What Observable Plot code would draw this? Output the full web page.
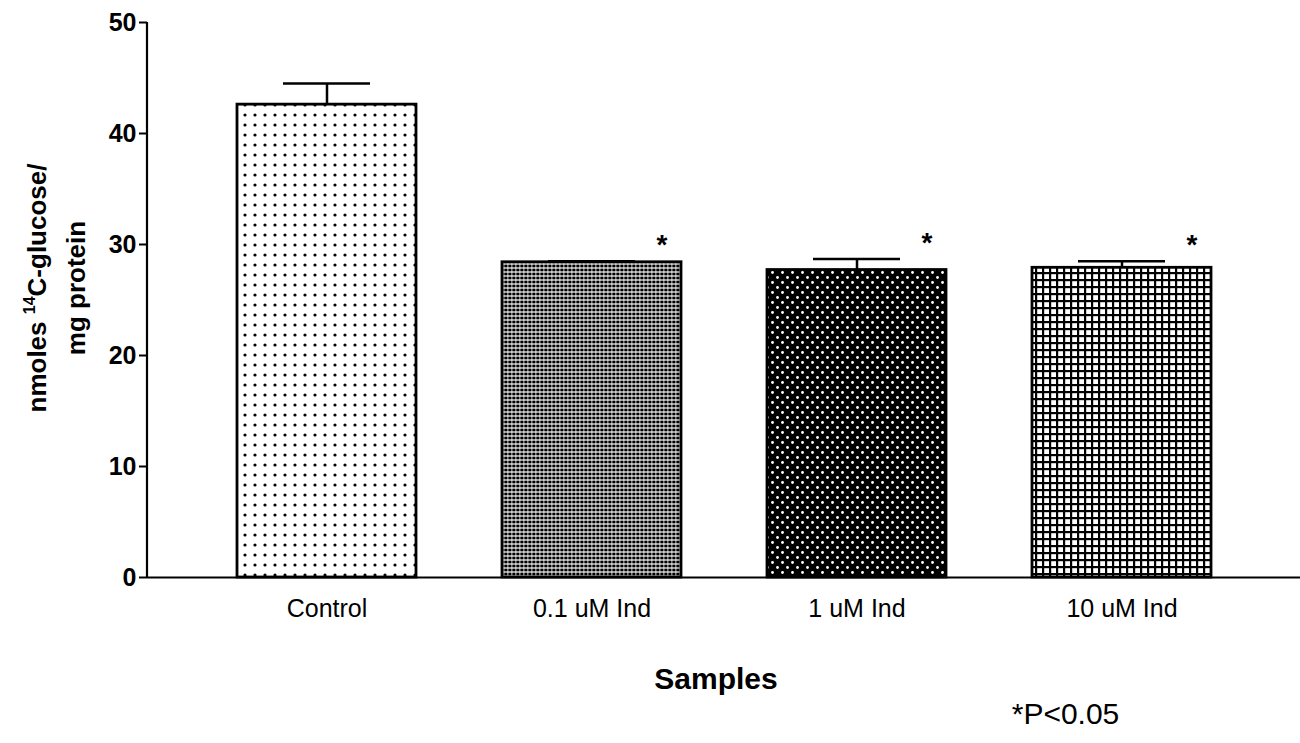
<!DOCTYPE html>
<html><head><meta charset="utf-8">
<script src="https://cdn.jsdelivr.net/npm/d3@7"></script>
<script src="https://cdn.jsdelivr.net/npm/@observablehq/plot@0.6"></script>
<style>body{margin:0;background:#fff}</style>
</head><body><div id="chart"></div>
<script>
const categories = ["Control", "0.1 uM Ind", "1 uM Ind", "10 uM Ind"];
const means = [42.6, 28.4, 27.7, 27.9];
const errors = [1.9, 0.1, 1.0, 0.6];
const significant = [false, true, true, true];
const yTicks = [0, 10, 20, 30, 40, 50];
const patternIds = ["pat-dots", "pat-fine", "pat-inverse", "pat-grid"];
const xTitle = "Samples";
const noteText = "*P<0.05";

const data = categories.map((c, i) => ({c, m: means[i], top: means[i] + errors[i], sig: significant[i]}));
const font = "'Liberation Sans', Arial, Helvetica, sans-serif";

const chart = Plot.plot({
  width: 1300, height: 743,
  marginLeft: 147, marginRight: 0, marginTop: 22, marginBottom: 166,
  style: {fontFamily: font, background: "white", color: "black", overflow: "visible"},
  x: {domain: categories, paddingInner: 0.325, paddingOuter: 0.33, label: null},
  y: {domain: [0, 50], label: null},
  marks: [
    ...categories.map((c, i) => Plot.barY(data.filter(d => d.c === c), {
      x: "c", y: "m", fill: `url(#${patternIds[i]})`, stroke: "black", strokeWidth: 2.8
    })),
    Plot.ruleX(data, {x: "c", y1: "m", y2: "top", stroke: "black", strokeWidth: 2.5}),
    Plot.tickY(data, {x: "c", y: "top", stroke: "black", strokeWidth: 2.5, insetLeft: 46, insetRight: 46}),
    Plot.text(data.filter(d => d.sig), {x: "c", y: "top", text: () => "*", dx: 70, dy: -16, fontSize: 28, fontWeight: "bold"}),
    Plot.ruleY([0], {stroke: "black", strokeWidth: 2}),
    Plot.axisY({ticks: yTicks, tickSize: 8, tickPadding: 3, fontSize: 25, fontWeight: "bold", tickFormat: d => d, strokeWidth: 2, label: null}),
    Plot.axisX({tickSize: 0, tickPadding: 22, fontSize: 25, label: null}),
    Plot.text([xTitle], {frameAnchor: "bottom", text: d => d, dx: -8, dy: 111, fontSize: 30, fontWeight: "bold"}),
    Plot.text([noteText], {frameAnchor: "bottom-right", text: d => d, textAnchor: "middle", dx: -235, dy: 146, fontSize: 30})
  ]
});

const svg = d3.select(chart);
svg.selectAll('g[aria-label="y-axis tick label"]').attr("font-size", 25).attr("font-weight", "bold");
svg.selectAll('g[aria-label="x-axis tick label"]').attr("font-size", 25);

const defs = svg.insert("defs", ":first-child");
// Control: black dots on white
let p = defs.append("pattern").attr("id", "pat-dots").attr("patternUnits", "userSpaceOnUse").attr("width", 10).attr("height", 10);
p.append("rect").attr("width", 10).attr("height", 10).attr("fill", "white");
p.append("circle").attr("cx", 5).attr("cy", 5).attr("r", 1.6).attr("fill", "black");
// 0.1 uM: fine dense screen
p = defs.append("pattern").attr("id", "pat-fine").attr("patternUnits", "userSpaceOnUse").attr("width", 4).attr("height", 4);
p.append("rect").attr("width", 4).attr("height", 4).attr("fill", "white");
p.append("rect").attr("x", 0.3).attr("y", 0.6).attr("width", 3.2).attr("height", 2.8).attr("fill", "black");
// 1 uM: white dots on black
p = defs.append("pattern").attr("id", "pat-inverse").attr("patternUnits", "userSpaceOnUse").attr("width", 10).attr("height", 10);
p.append("rect").attr("width", 10).attr("height", 10).attr("fill", "black");
p.append("circle").attr("cx", 2.5).attr("cy", 2.5).attr("r", 1.4).attr("fill", "white");
p.append("circle").attr("cx", 7.5).attr("cy", 7.5).attr("r", 1.4).attr("fill", "white");
// 10 uM: grid
p = defs.append("pattern").attr("id", "pat-grid").attr("patternUnits", "userSpaceOnUse").attr("width", 7).attr("height", 7);
p.append("rect").attr("width", 7).attr("height", 7).attr("fill", "black");
p.append("rect").attr("x", 1.2).attr("y", 1.2).attr("width", 4.8).attr("height", 4.8).attr("fill", "white");

// y-axis line
const ys = chart.scale("y");
svg.append("line").attr("x1", 147).attr("x2", 147).attr("y1", ys.apply(50)).attr("y2", ys.apply(0))
  .attr("stroke", "black").attr("stroke-width", 2.2);

// y-axis title (two lines, with superscript)
const t1 = svg.append("text").attr("transform", "translate(46,288) rotate(-90)")
  .attr("text-anchor", "middle").attr("font-family", font).attr("font-size", 26).attr("font-weight", "bold").attr("fill", "black");
t1.append("tspan").text("nmoles ");
t1.append("tspan").attr("font-size", 16).attr("dy", -11).text("14");
t1.append("tspan").attr("dy", 11).text("C-glucose/");
svg.append("text").attr("transform", "translate(85,288) rotate(-90)")
  .attr("text-anchor", "middle").attr("font-family", font).attr("font-size", 26).attr("font-weight", "bold").attr("fill", "black")
  .text("mg protein");

document.getElementById("chart").appendChild(chart);
</script>
</body></html>
